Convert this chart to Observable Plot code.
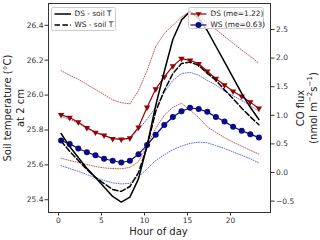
<!DOCTYPE html>
<html><head><meta charset="utf-8">
<script src="https://cdn.jsdelivr.net/npm/d3@7"></script>
<script src="https://cdn.jsdelivr.net/npm/@observablehq/plot@0.6"></script>
<style>
body{margin:0;background:#fff;}
#wrap{position:relative;width:320px;height:240px;font-family:"DejaVu Sans",sans-serif;overflow:hidden;background:#fff;}
#wrap svg{position:absolute;left:0;top:0;}
.lab{position:absolute;font-size:10px;color:#222;white-space:nowrap;text-align:center;line-height:12.5px;}
.lab sup{font-size:7px;line-height:0;}
.leg{position:absolute;background:rgba(255,255,255,0.8);border:1px solid #ccc;border-radius:2.5px;box-sizing:border-box;}
.row{position:absolute;left:0;height:10px;font-size:7.4px;color:#222;white-space:nowrap;}
.row svg{position:absolute;top:0;}
.row span{position:absolute;top:0;line-height:10px;}
</style></head><body><div id="wrap"></div>
<script>
const hour = [0.3,1.3,2.3,3.3,4.3,5.3,6.3,7.3,8.3,9.3,10.3,11.3,12.3,13.3,14.3,15.3,16.3,17.3,18.3,19.3,20.3,21.3,22.3,23.3];
const dsSoilT = [25.78,25.705,25.642,25.58,25.528,25.473,25.419,25.387,25.415,25.52,25.71,25.94,26.135,26.32,26.43,26.48,26.44,26.37,26.28,26.19,26.10,26.01,25.93,25.86];
const wsSoilT = [25.737,25.677,25.625,25.574,25.528,25.493,25.459,25.448,25.476,25.556,25.705,25.906,26.026,26.124,26.181,26.189,26.170,26.125,26.085,26.03,25.98,25.925,25.876,25.83];
const dsFlux = [1.01,0.96,0.88,0.78,0.70,0.65,0.59,0.58,0.60,0.79,1.14,1.46,1.67,1.86,1.99,1.96,1.90,1.77,1.64,1.53,1.42,1.33,1.23,1.12];
const dsFluxUpper = [1.78,1.70,1.63,1.54,1.45,1.36,1.27,1.22,1.20,1.43,1.78,2.20,2.43,2.57,2.72,2.81,2.73,2.62,2.50,2.38,2.26,2.14,2.03,1.91];
const dsFluxLower = [0.25,0.21,0.175,0.14,0.105,0.08,0.07,0.065,0.09,0.19,0.47,0.77,1.00,1.14,1.21,1.09,0.96,0.80,0.70,0.61,0.53,0.46,0.39,0.32];
const wsFlux = [0.56,0.50,0.42,0.355,0.30,0.24,0.205,0.175,0.205,0.32,0.48,0.66,0.83,0.97,1.07,1.13,1.11,1.06,0.97,0.89,0.80,0.73,0.67,0.61];
const wsFluxUpper = [0.98,0.93,0.86,0.78,0.71,0.65,0.60,0.58,0.59,0.75,0.93,1.14,1.40,1.61,1.73,1.75,1.70,1.61,1.53,1.42,1.34,1.26,1.17,1.07];
const wsFluxLower = [0.12,0.07,0.02,-0.035,-0.09,-0.14,-0.18,-0.20,-0.19,-0.07,0.06,0.21,0.31,0.40,0.46,0.51,0.53,0.52,0.47,0.42,0.36,0.30,0.24,0.17];
const hourTicks = [0,5,10,15,20];
const tempTicks = [25.4,25.6,25.8,26.0,26.2,26.4];
const fluxTicks = [-0.5,0,0.5,1.0,1.5,2.0,2.5];
const hourDomain = [-1.163,24.65];
const tempDomain = [25.327,26.525];
const fluxDomain = [-0.699,2.954];
const legendSoil = ["DS - soil T","WS - soil T"];
const legendFlux = ["DS (me=1.22)","WS (me=0.63)"];
const xLabel = "Hour of day";

const DS_RED = "#990000", WS_BLUE = "#0a0a8c", RED_DOT = "#b83030", BLUE_DOT = "#3a4ee0";
const k = (tempDomain[1]-tempDomain[0])/(fluxDomain[1]-fluxDomain[0]);
const f2t = f => tempDomain[0] + (f - fluxDomain[0]) * k;
const t2f = t => fluxDomain[0] + (t - tempDomain[0]) / k;
const fmtFlux = t => { const f = Math.round(t2f(t)*10)/10; return (f < 0 ? "\u2212" : "") + Math.abs(f).toFixed(1); };

const rows = hour.map((h,i)=>({h, dsT:dsSoilT[i], wsT:wsSoilT[i], dsF:dsFlux[i], dsU:dsFluxUpper[i], dsL:dsFluxLower[i], wsF:wsFlux[i], wsU:wsFluxUpper[i], wsL:wsFluxLower[i]}));
const dotted = {strokeWidth:0.9, strokeDasharray:"0.9,1.5", strokeOpacity:0.9};

const chart = Plot.plot({
  width:320, height:240,
  marginTop:3, marginBottom:28, marginLeft:48, marginRight:50,
  style:{fontFamily:"DejaVu Sans", fontSize:"7.5px", color:"#333", background:"transparent", overflow:"visible"},
  x:{domain:hourDomain},
  y:{domain:tempDomain},
  marks:[
    Plot.line(rows,{x:"h", y:d=>f2t(d.dsU), stroke:RED_DOT, ...dotted}),
    Plot.line(rows,{x:"h", y:d=>f2t(d.dsL), stroke:RED_DOT, ...dotted}),
    Plot.line(rows,{x:"h", y:d=>f2t(d.wsU), stroke:BLUE_DOT, ...dotted}),
    Plot.line(rows,{x:"h", y:d=>f2t(d.wsL), stroke:BLUE_DOT, ...dotted}),
    Plot.line(rows,{x:"h", y:d=>f2t(d.dsF), stroke:DS_RED, strokeWidth:1.2}),
    Plot.dot(rows,{x:"h", y:d=>f2t(d.dsF), symbol:"triangle", rotate:180, r:2.35, fill:DS_RED, stroke:"none"}),
    Plot.line(rows,{x:"h", y:d=>f2t(d.wsF), stroke:WS_BLUE, strokeWidth:1.2}),
    Plot.dot(rows,{x:"h", y:d=>f2t(d.wsF), symbol:"circle", r:3.0, fill:WS_BLUE, stroke:"none"}),
    Plot.line(rows,{x:"h", y:"dsT", stroke:"#000", strokeWidth:1.5}),
    Plot.line(rows,{x:"h", y:"wsT", stroke:"#000", strokeWidth:1.5, strokeDasharray:"5.5,2.4"}),
    Plot.frame({stroke:"#333", strokeWidth:1}),
    Plot.axisX({ticks:hourTicks, tickSize:3.5, tickPadding:2, label:null, tickFormat:d=>String(d), stroke:"#333"}),
    Plot.axisY({ticks:tempTicks, tickSize:3.5, tickPadding:1.5, label:null, tickFormat:d=>d.toFixed(1), stroke:"#333"}),
    Plot.axisY(fluxTicks.map(f2t), {anchor:"right", tickSize:3.5, tickPadding:2, label:null, tickFormat:fmtFlux, stroke:"#333"})
  ]
});
const wrap = document.getElementById("wrap");
wrap.appendChild(chart);

function addLabel(html, cx, cy, rot){
  const d = document.createElement("div");
  d.className = "lab"; d.innerHTML = html;
  d.style.left = cx + "px"; d.style.top = cy + "px";
  d.style.transform = "translate(-50%,-50%)" + (rot ? " rotate(" + rot + "deg)" : "");
  wrap.appendChild(d);
}
addLabel("Soil temperature (°C)<br>at 2 cm", 13.5, 108, -90);
addLabel("CO flux<br>(nmol m<sup>\u22122</sup>s<sup>\u22121</sup>)", 306.5, 107.5, -90);
addLabel(xLabel, 158.5, 231.5, 0);

function legend(left, top, w, h, labels, styles, lineX0, lineX1, textX){
  const box = document.createElement("div");
  box.className = "leg";
  Object.assign(box.style,{left:left+"px", top:top+"px", width:w+"px", height:h+"px"});
  labels.forEach((lab,i)=>{
    const r = document.createElement("div");
    r.className = "row";
    r.style.top = (1 + i*11.3) + "px";
    r.style.width = w + "px";
    const s = styles[i];
    let sv = `<svg width="${lineX1+4}" height="10" style="left:0"><line x1="${lineX0}" x2="${lineX1}" y1="5" y2="5" stroke="${s.stroke}" stroke-width="${s.sw}" ${s.dash?`stroke-dasharray="${s.dash}"`:""}/>`;
    const mx = (lineX0+lineX1)/2;
    if (s.marker === "tri") sv += `<path d="M${mx-3},${3.2} L${mx+3},${3.2} L${mx},${8} Z" fill="${s.stroke}"/>`;
    if (s.marker === "circ") sv += `<circle cx="${mx}" cy="5" r="3" fill="${s.stroke}"/>`;
    sv += "</svg>";
    r.innerHTML = sv + `<span style="left:${textX}px">${lab}</span>`;
    box.appendChild(r);
  });
  wrap.appendChild(box);
}
legend(50.5, 6.5, 65.5, 24, legendSoil, [{stroke:"#000", sw:1.5},{stroke:"#000", sw:1.5, dash:"5.5,2.4"}], 2.5, 19, 23);
legend(187.5, 6.5, 76.5, 22.5, legendFlux, [{stroke:DS_RED, sw:1.2, marker:"tri"},{stroke:WS_BLUE, sw:1.2, marker:"circ"}], 1.5, 17.5, 22);
</script></body></html>
